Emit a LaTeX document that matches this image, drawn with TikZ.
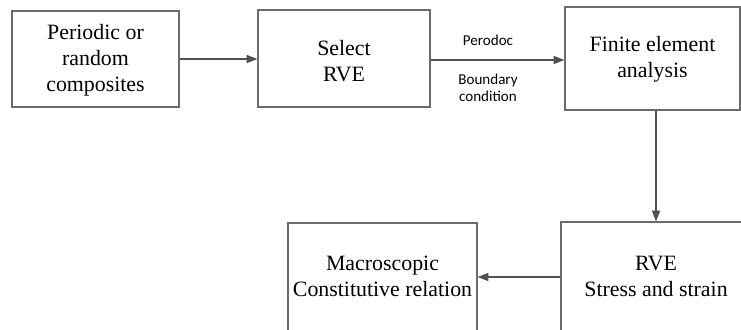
\documentclass[tikz,border=0pt]{standalone}
\usepackage{fontspec}
\setmainfont{Liberation Serif}
\newfontfamily\labfont{Carlito}
\usetikzlibrary{arrows.meta,calc}
\definecolor{boxline}{HTML}{6A6A6A}
\definecolor{arrline}{HTML}{505050}
\tikzset{
  box/.style={draw=boxline, line width=0.9pt, rectangle, inner sep=0pt},
  txt/.style={align=center, inner sep=0pt, font=\fontsize{16.4pt}{19.5pt}\selectfont},
  arr/.style={draw=arrline, line width=1pt, -{Triangle[length=8pt,width=6pt]}},
  lab/.style={align=center, inner sep=0pt, font=\labfont\fontsize{11.3pt}{12.8pt}\selectfont}
}
\begin{document}
\begin{tikzpicture}[x=0.75pt,y=-0.75pt]
\useasboundingbox (0,0) rectangle (741,329);
\clip (0,0) rectangle (741,329);
\node[box, minimum width=125.25pt, minimum height=72pt] (b1) at (95.5,59) {};
\node[box, minimum width=129pt, minimum height=72.75pt] (b2) at (344,58.5) {};
\node[box, minimum width=131.25pt, minimum height=77.25pt] (b3) at (652.5,58.5) {};
\node[box, minimum width=142.5pt, minimum height=97.5pt] (b4) at (656,287) {};
\node[box, minimum width=141.75pt, minimum height=97.5pt] (b5) at (382.5,288) {};
\node[txt] (t1) at (95.5,60) {Periodic or\\random\\composites};
\node[txt] (t2) at (344,61) {Select\\RVE};
\node[txt] (t3) at (652.5,59) {Finite element\\analysis};
\node[txt] (t4) at (656,276) {RVE\\Stress and strain};
\node[txt] (t5) at (382.5,276) {Macroscopic\\Constitutive relation};
\node[lab] (l1) at (488,40) {Perodoc};
\node[lab] (l2) at (488,87.5) {Boundary\\condition};
\draw[arr] (b1.east) -- (b1.east -| b2.west);
\draw[arr] ($(b2.east)+(0,1.5)$) -- ($(b2.east -| b3.west)+(0,1.5)$);
\draw[arr] (b4.north |- b3.south) -- (b4.north);
\draw[arr] ($(t5.east -| b4.west)+(0,1)$) -- ($(t5.east -| b5.east)+(0,1)$);
\end{tikzpicture}
\end{document}
